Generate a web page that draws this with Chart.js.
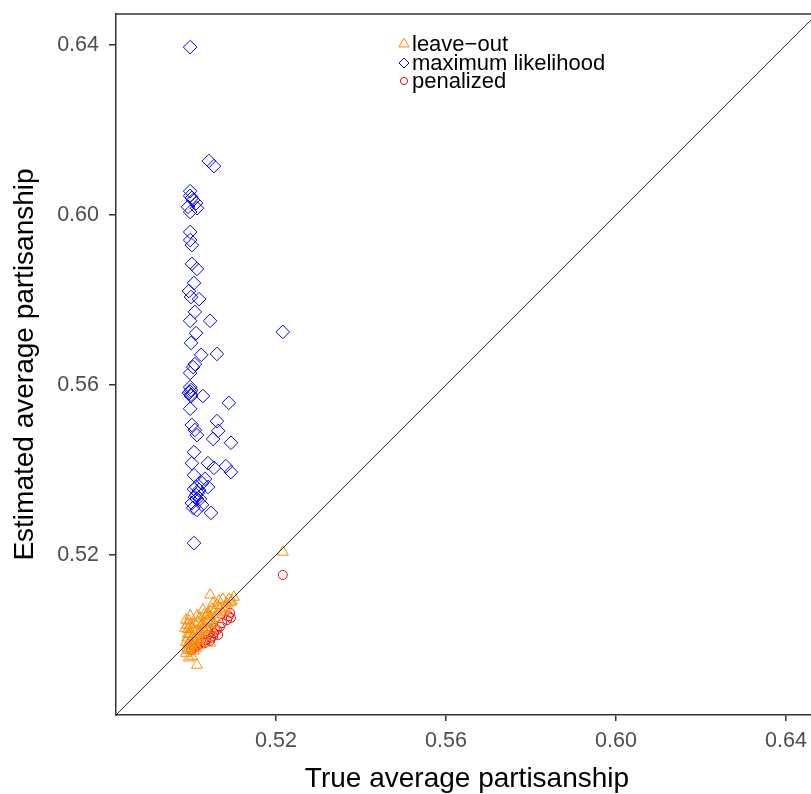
<!DOCTYPE html>
<html>
<head>
<meta charset="utf-8">
<script src="https://cdn.jsdelivr.net/npm/chart.js@4/dist/chart.umd.min.js"></script>
<style>
  html, body { margin: 0; padding: 0; background: #fff; overflow: hidden; }
  #wrap { width: 818px; height: 794px; }
</style>
</head>
<body>
<div id="wrap"><canvas id="chart" width="818" height="794"></canvas></div>
<script>
// axis ticks
const xTicks = [0.52, 0.56, 0.60, 0.64]
const yTicks = [0.52, 0.56, 0.60, 0.64]
const axisMin = 0.48235
const xMax = 0.64753
const yMax = 0.64729

// y = x reference line
const diagX = [0.47, 0.66]

// leave-out (orange triangles)
const leaveOutX = [0.5216, 0.5045, 0.5089, 0.5096, 0.5085, 0.5061, 0.5052, 0.5040, 0.5068, 0.5078, 0.5031,
  0.5056, 0.4995, 0.4998, 0.4993, 0.5002, 0.5009, 0.5016, 0.5021, 0.5026, 0.5033, 0.5040, 0.5045,
  0.5012, 0.5019, 0.5028, 0.5035, 0.5049, 0.4998, 0.5005, 0.4991, 0.4998, 0.5007, 0.4993, 0.5002,
  0.4991, 0.4998, 0.4988, 0.5009, 0.5014, 0.5021, 0.5031, 0.5045, 0.4995, 0.5014, 0.5002, 0.5056,
  0.5064, 0.5073, 0.5082, 0.5094, 0.4991, 0.4993, 0.5012, 0.5021,
  0.4988, 0.4986, 0.4988, 0.4993, 0.5007, 0.5019, 0.5024, 0.5038, 0.5049, 0.5066, 0.5075, 0.5101,
  0.4998, 0.5014, 0.5028, 0.5047, 0.5054]
const leaveOutY = [0.5207, 0.5106, 0.5096, 0.5092, 0.5085, 0.5082, 0.5087, 0.5064, 0.5075, 0.5071, 0.5059,
  0.5068, 0.5045, 0.5035, 0.5025, 0.5029, 0.5038, 0.5042, 0.5052, 0.5035, 0.5040, 0.5047, 0.5056,
  0.5021, 0.5014, 0.5024, 0.5029, 0.5040, 0.5014, 0.5009, 0.5005, 0.4998, 0.5000, 0.4991, 0.4986,
  0.4981, 0.4976, 0.4969, 0.4993, 0.5005, 0.5000, 0.5009, 0.4993, 0.4958, 0.4941, 0.4962, 0.5052,
  0.5061, 0.5066, 0.5078, 0.5089, 0.5035, 0.5014, 0.4981, 0.5019,
  0.5047, 0.5028, 0.4995, 0.4976, 0.4974, 0.4988, 0.5035, 0.5061, 0.5073, 0.5092, 0.5096, 0.5101,
  0.5057, 0.5057, 0.5071, 0.5024, 0.5038]

// maximum likelihood (blue diamonds)
const mlX = [0.4998, 0.5042, 0.5054, 0.4998, 0.4998, 0.5005, 0.5012, 0.4993, 0.5014, 0.4998, 0.5002,
  0.4998, 0.4998, 0.5002, 0.5002, 0.5014, 0.5007, 0.4995, 0.5000, 0.5019, 0.5009, 0.4998, 0.5045,
  0.5012, 0.5216, 0.5000, 0.5024, 0.5061, 0.5009, 0.5005, 0.4998, 0.4998, 0.5000, 0.4995, 0.5000,
  0.5028, 0.5089, 0.4998, 0.5061, 0.5002, 0.5009, 0.5064, 0.5014, 0.5052, 0.5094, 0.5007, 0.5002,
  0.5040, 0.5054, 0.5082, 0.5094, 0.5007, 0.5033, 0.5026, 0.5040, 0.5007, 0.5016, 0.5009, 0.5021,
  0.5014, 0.5002, 0.5026, 0.5005, 0.5014, 0.5047, 0.5007, 0.4998, 0.5000, 0.5012, 0.5019, 0.5012]
const mlY = [0.6395, 0.6127, 0.6115, 0.6056, 0.6045, 0.6035, 0.6028, 0.6019, 0.6016, 0.6007, 0.6040,
  0.5960, 0.5941, 0.5929, 0.5885, 0.5873, 0.5840, 0.5821, 0.5807, 0.5802, 0.5772, 0.5751, 0.5751,
  0.5722, 0.5725, 0.5699, 0.5671, 0.5673, 0.5649, 0.5642, 0.5628, 0.5595, 0.5588, 0.5581, 0.5574,
  0.5574, 0.5558, 0.5544, 0.5515, 0.5506, 0.5494, 0.5492, 0.5482, 0.5473, 0.5464, 0.5442, 0.5416,
  0.5416, 0.5405, 0.5409, 0.5395, 0.5388, 0.5379, 0.5369, 0.5360, 0.5355, 0.5346, 0.5336, 0.5332,
  0.5332, 0.5322, 0.5318, 0.5311, 0.5306, 0.5299, 0.5228, 0.5584, 0.5577, 0.5360, 0.5353, 0.5341]

// penalized (red circles)
const penX = [0.5216, 0.5092, 0.5089, 0.5094, 0.5085, 0.5068, 0.5061, 0.5054, 0.5052, 0.5047, 0.5040,
  0.5035, 0.5028, 0.5021, 0.5014, 0.5007, 0.5000, 0.5056, 0.5045, 0.5033, 0.5073, 0.5064]
const penY = [0.5153, 0.5064, 0.5056, 0.5052, 0.5047, 0.5031, 0.5024, 0.5016, 0.5009, 0.5005, 0.5012,
  0.5000, 0.4995, 0.4991, 0.4986, 0.4981, 0.4976, 0.5028, 0.4998, 0.4993, 0.5040, 0.5012]

const toPts = (xs, ys) => xs.map((x, i) => ({x: x, y: ys[i]}))

const FONT = "'Liberation Sans', Arial, Helvetica, sans-serif"

// top frame line + legend inside the panel
const extras = {
  id: 'extras',
  afterDraw(chart) {
    const ctx = chart.ctx
    const a = chart.chartArea
    ctx.save()
    ctx.strokeStyle = '#333333'
    ctx.lineWidth = 1.5
    ctx.beginPath()
    ctx.moveTo(a.left - 0.75, a.top)
    ctx.lineTo(a.right, a.top)
    ctx.stroke()

    const rows = [
      {ds: 1, y: 44, r: 5.8},
      {ds: 2, y: 63, r: 5},
      {ds: 3, y: 81, r: 3.6}
    ]
    ctx.font = '22px ' + FONT
    ctx.textBaseline = 'middle'
    ctx.textAlign = 'left'
    rows.forEach(row => {
      const d = chart.data.datasets[row.ds]
      ctx.strokeStyle = d.borderColor
      ctx.fillStyle = 'rgba(0,0,0,0)'
      ctx.lineWidth = 1
      Chart.helpers.drawPoint(ctx, {pointStyle: d.pointStyle, radius: row.r, rotation: 0, borderWidth: 1}, 404, row.y)
      ctx.fillStyle = '#000'
      ctx.fillText(d.label, 412, row.y + 0.5)
    })
    ctx.restore()
  }
}

new Chart(document.getElementById('chart'), {
  type: 'scatter',
  data: {
    datasets: [
      {
        label: 'diag',
        type: 'line',
        data: toPts(diagX, diagX),
        borderColor: '#000',
        borderWidth: 0.8,
        pointRadius: 0,
        order: 0
      },
      {
        label: 'leave\u2212out',
        data: toPts(leaveOutX, leaveOutY),
        pointStyle: 'triangle',
        pointRadius: 6.3,
        borderColor: '#FF8C00',
        backgroundColor: 'rgba(0,0,0,0)',
        borderWidth: 1,
        order: 1
      },
      {
        label: 'maximum likelihood',
        data: toPts(mlX, mlY),
        pointStyle: 'rectRot',
        pointRadius: 6.8,
        borderColor: '#0000FF',
        backgroundColor: 'rgba(0,0,0,0)',
        borderWidth: 1,
        order: 2
      },
      {
        label: 'penalized',
        data: toPts(penX, penY),
        pointStyle: 'circle',
        pointRadius: 4.5,
        borderColor: '#FF0000',
        backgroundColor: 'rgba(0,0,0,0)',
        borderWidth: 1,
        order: 3
      }
    ]
  },
  options: {
    responsive: false,
    animation: false,
    devicePixelRatio: 1,
    layout: { autoPadding: false, padding: { top: 14, right: 0, bottom: 0, left: 0 } },
    plugins: { legend: { display: false }, tooltip: { enabled: false } },
    scales: {
      x: {
        type: 'linear',
        min: axisMin,
        max: xMax,
        afterBuildTicks: s => { s.ticks = xTicks.map(v => ({value: v})) },
        afterFit: s => { s.height = 79; s.paddingLeft = 0; s.paddingRight = 0 },
        ticks: {
          autoSkip: false,
          maxRotation: 0,
          padding: 7,
          color: '#4d4d4d',
          font: { family: FONT, size: 21.5 },
          callback: v => v.toFixed(2)
        },
        grid: { drawOnChartArea: false, drawTicks: true, tickLength: 6, color: '#333333', lineWidth: 1.5 },
        border: { display: true, color: '#333333', width: 1.5 },
        title: {
          display: true,
          text: 'True average partisanship',
          color: '#000',
          font: { family: FONT, size: 28, lineHeight: 1 },
          padding: { top: 0, bottom: 1 }
        }
      },
      y: {
        type: 'linear',
        min: axisMin,
        max: yMax,
        afterBuildTicks: s => { s.ticks = yTicks.map(v => ({value: v})) },
        afterFit: s => { s.width = 116; s.paddingTop = 0; s.paddingBottom = 0 },
        ticks: {
          autoSkip: false,
          padding: 10,
          color: '#4d4d4d',
          font: { family: FONT, size: 21.5 },
          callback: v => v.toFixed(2)
        },
        grid: { drawOnChartArea: false, drawTicks: true, tickLength: 7, color: '#333333', lineWidth: 1.5 },
        border: { display: true, color: '#333333', width: 1.5 },
        title: {
          display: true,
          text: 'Estimated average partisanship',
          color: '#000',
          font: { family: FONT, size: 28, lineHeight: 1 },
          padding: { top: 11, bottom: 0 }
        }
      }
    }
  },
  plugins: [extras]
})
</script>
</body>
</html>
